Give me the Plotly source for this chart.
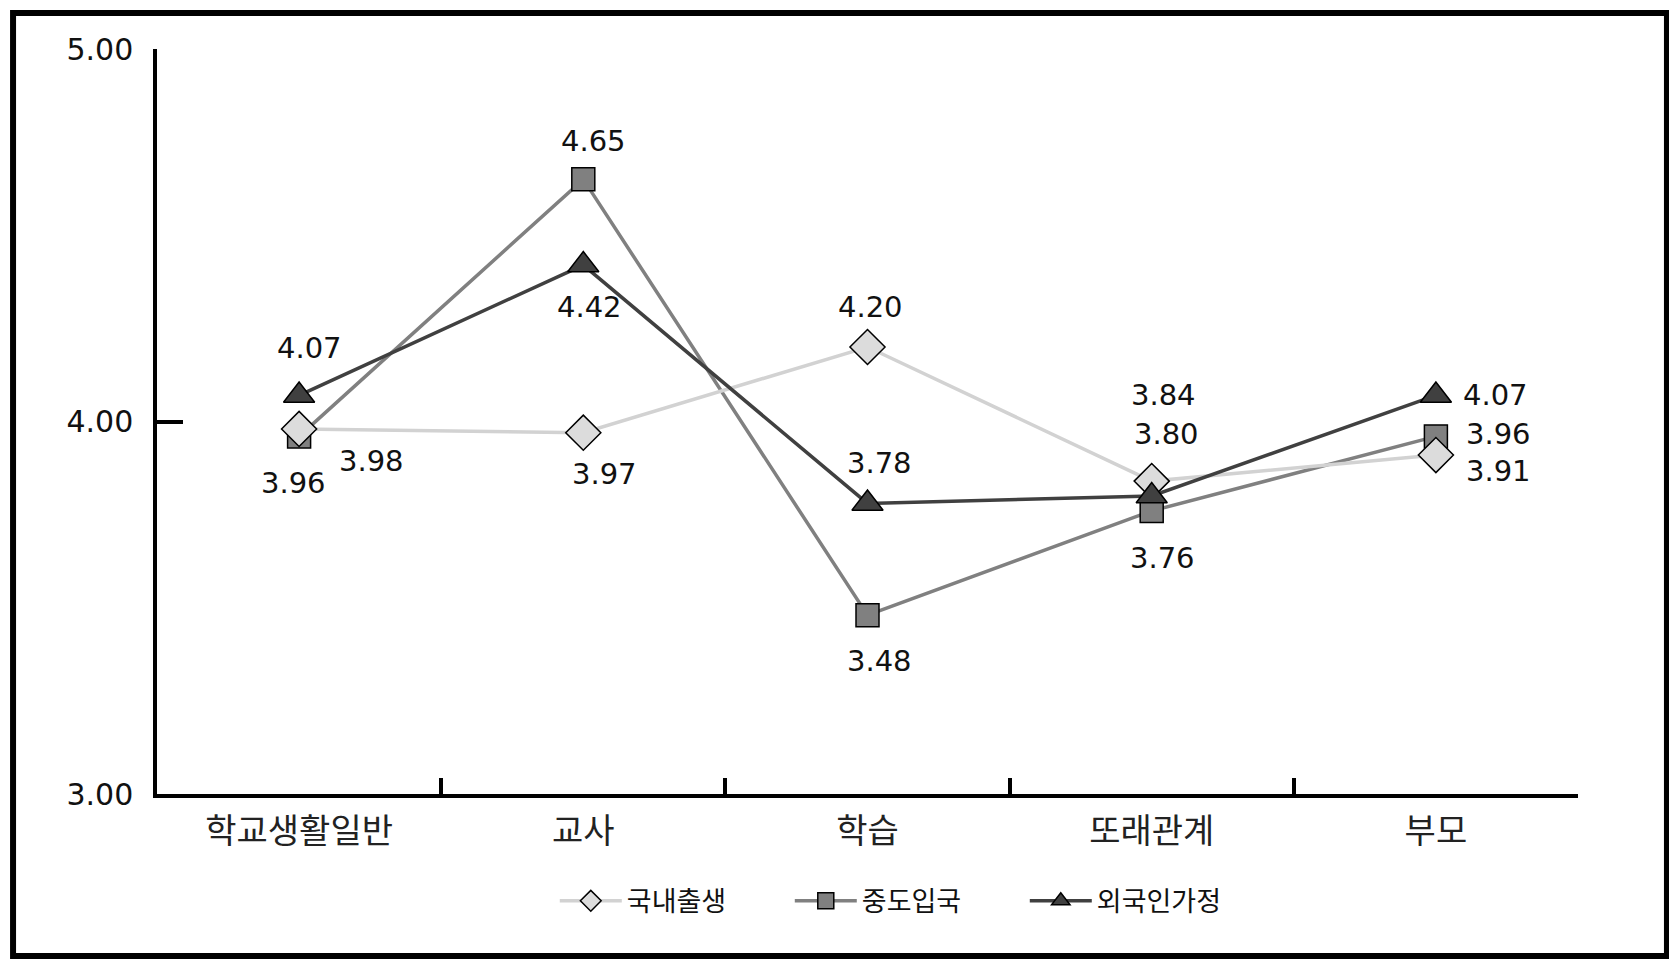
import plotly.graph_objects as go

categories = ["학교생활일반", "교사", "학습", "또래관계", "부모"]
series_names = ["국내출생", "중도입국", "외국인가정"]
domestic = [3.98, 3.97, 4.20, 3.84, 3.91]   # 국내출생
midentry = [3.96, 4.65, 3.48, 3.76, 3.96]   # 중도입국
foreign = [4.07, 4.42, 3.78, 3.80, 4.07]    # 외국인가정
y_tickvals = [3, 4, 5]
y_ticktext = ["3.00", "4.00", "5.00"]

NUM_FONT = "DejaVu Sans"
KR_FONT = "Noto Sans CJK KR"

# label offsets in px (dx right, dy down) so the numbers don't collide
label_offsets = {
    "국내출생": [(72, 32), (21, 41), (3, -40), (12, -86), (63, 16)],
    "중도입국": [(-6, 47), (10, -38), (12, 46), (11, 47), (63, -2)],
    "외국인가정": [(10, -47), (6, 42), (12, -40), (15, -62), (60, 0)],
}

styles = {
    "국내출생": dict(symbol="diamond", size=27, fill="#dcdcdc", line="#d2d2d2", rank=1),
    "중도입국": dict(symbol="square", size=23, fill="#808080", line="#808080", rank=2),
    "외국인가정": dict(symbol="triangle-up", size=27, fill="#404040", line="#404040", rank=3),
}
values = {"국내출생": domestic, "중도입국": midentry, "외국인가정": foreign}

fig = go.Figure()

# square first, then diamond, then triangle on top (as in the picture)
for name in ["중도입국", "국내출생", "외국인가정"]:
    st = styles[name]
    fig.add_trace(go.Scatter(
        x=categories, y=values[name], name=name, mode="lines+markers",
        line=dict(color=st["line"], width=3.5),
        marker=dict(symbol=st["symbol"], size=st["size"], color=st["fill"],
                    line=dict(color="black", width=1.5)),
        legendrank=st["rank"],
    ))

annotations = []
for name in series_names:
    for cat, v, (dx, dy) in zip(categories, values[name], label_offsets[name]):
        annotations.append(dict(
            x=cat, y=v, text=f"{v:.2f}", showarrow=False,
            xshift=dx, yshift=-dy,
            font=dict(family=NUM_FONT, size=29, color="#111"),
        ))

fig.update_layout(
    width=1677, height=969,
    margin=dict(l=149, r=107, t=41, b=183),
    paper_bgcolor="white", plot_bgcolor="white",
    showlegend=True,
    legend=dict(orientation="h", x=0.528, xanchor="center", y=-0.144, yanchor="middle",
                font=dict(family=KR_FONT, size=27, color="#111"),
                itemwidth=62, itemsizing="trace", entrywidth=158, traceorder="normal"),
    annotations=annotations,
    shapes=[dict(type="rect", xref="paper", yref="paper",
                 x0=-0.1013, x1=1.0626, y0=-0.2174, y1=1.0483,
                 line=dict(color="black", width=6))],
)

fig.update_xaxes(
    type="category", range=[-0.5, 4.5],
    showline=True, linecolor="black", linewidth=3.5, mirror=False,
    ticks="inside", tickson="boundaries", ticklen=16, tickwidth=3.5, tickcolor="black",
    showgrid=False, zeroline=False, ticklabelstandoff=4,
    tickfont=dict(family=KR_FONT, size=34, color="#222"),
)
fig.update_yaxes(
    range=[3, 5], tickvals=y_tickvals, ticktext=y_ticktext,
    showline=True, linecolor="black", linewidth=3.5,
    ticks="inside", ticklen=26, tickwidth=3.5, tickcolor="black",
    showgrid=False, zeroline=False, ticklabelstandoff=14,
    tickfont=dict(family=NUM_FONT, size=30, color="#111"),
)

fig.write_html("out.html")
